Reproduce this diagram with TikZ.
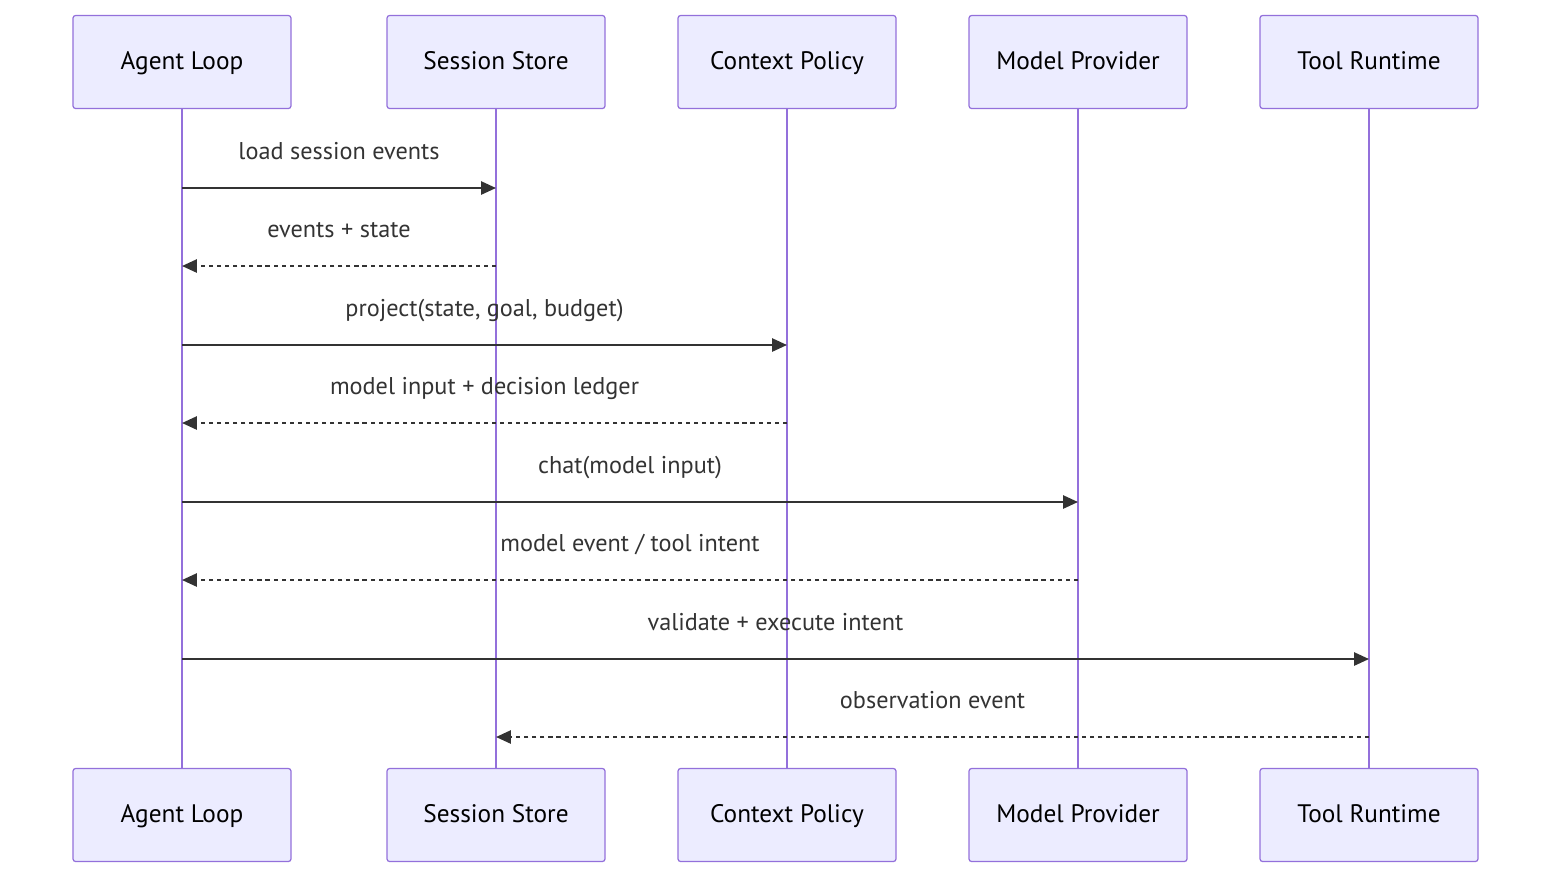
\documentclass[tikz,border=0pt]{standalone}
\usepackage{fontspec}
\setmainfont{PT Sans}
\usepackage{tikz}
\usetikzlibrary{arrows.meta,positioning,calc}
\definecolor{actfill}{HTML}{ECECFF}
\definecolor{actline}{HTML}{9370DB}
\definecolor{msgcol}{HTML}{333333}

\begin{document}
\begin{tikzpicture}[
  x=0.2mm, y=-0.2mm, >={Triangle[length=8.5pt,width=7.5pt]},
  font=\fontsize{13.8}{16}\selectfont,
  actor/.style={draw=actline, fill=actfill, rounded corners=1.5pt,
                line width=0.7pt, minimum width=43.6mm, minimum height=18.6mm,
                inner sep=0pt, text height=1.05em, text depth=0.15em,
                font=\fontsize{14.4}{16}\selectfont},
  life/.style={actline, line width=1.6pt},
  msg/.style={->, msgcol, line width=1.2pt},
  reply/.style={msg, dash pattern=on 2.4pt off 2.2pt},
  lbl/.style={midway, yshift=6.5mm, text=msgcol, inner sep=0pt,
              text height=0.72em, text depth=0.22em}
]
  \useasboundingbox (0,0) rectangle (1568,888);
  \def\xa{182} \def\xb{496} \def\xc{787} \def\xd{1078} \def\xe{1369}
  % actors, top and bottom
  \node[actor] (t1) at (\xa,62) {Agent Loop};
  \node[actor] (t2) at (\xb,62) {Session Store};
  \node[actor] (t3) at (\xc,62) {Context Policy};
  \node[actor] (t4) at (\xd,62) {Model Provider};
  \node[actor] (t5) at (\xe,62) {Tool Runtime};
  \node[actor] (b1) at (\xa,815) {Agent Loop};
  \node[actor] (b2) at (\xb,815) {Session Store};
  \node[actor] (b3) at (\xc,815) {Context Policy};
  \node[actor] (b4) at (\xd,815) {Model Provider};
  \node[actor] (b5) at (\xe,815) {Tool Runtime};
  \foreach \n in {1,...,5} \draw[life] (t\n.south) -- (b\n.north);
  % message rows
  \foreach \r/\y in {1/188,2/266,3/345,4/423,5/502,6/580,7/659,8/737}
    \coordinate (r\r) at (0,\y);
  % 1
  \draw[msg] (t1 |- r1) -- node[lbl]{load session events} (t2 |- r1);
  % 2
  \draw[reply] (t2 |- r2) -- node[lbl]{events + state} (t1 |- r2);
  % 3
  \draw[msg] (t1 |- r3) -- node[lbl]{project(state, goal, budget)} (t3 |- r3);
  % 4
  \draw[reply] (t3 |- r4) -- node[lbl]{model input + decision ledger} (t1 |- r4);
  % 5
  \draw[msg] (t1 |- r5) -- node[lbl]{chat(model input)} (t4 |- r5);
  % 6
  \draw[reply] (t4 |- r6) -- node[lbl]{model event / tool intent} (t1 |- r6);
  % 7
  \draw[msg] (t1 |- r7) -- node[lbl]{validate + execute intent} (t5 |- r7);
  % 8
  \draw[reply] (t5 |- r8) -- node[lbl]{observation event} (t2 |- r8);
\end{tikzpicture}
\end{document}
